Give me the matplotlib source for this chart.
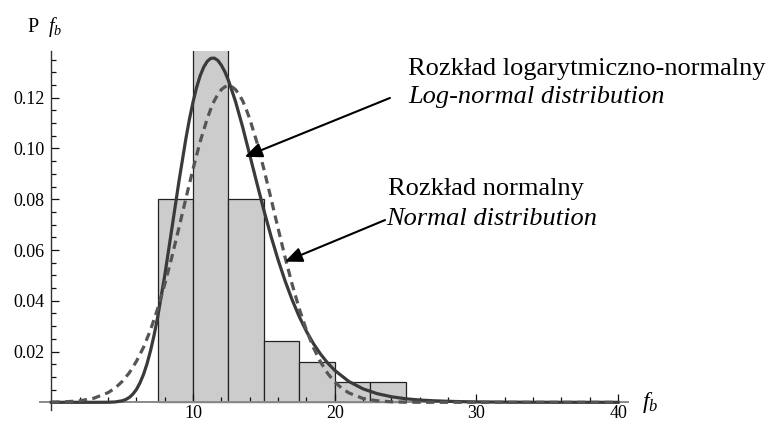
import matplotlib
matplotlib.use("Agg")
import matplotlib.pyplot as plt
from matplotlib.ticker import FixedLocator

plt.rcParams['font.family'] = ['Liberation Serif', 'DejaVu Serif']
plt.rcParams['mathtext.fontset'] = 'custom'
plt.rcParams['mathtext.rm'] = 'Liberation Serif'
plt.rcParams['mathtext.it'] = 'Liberation Serif:italic'

# histogram (bin edges, density heights)
bin_edges = [7.5, 10, 12.5, 15, 17.5, 20, 22.5, 25]
bin_heights = [0.08, 0.184, 0.08, 0.024, 0.016, 0.008, 0.008]

# log-normal fit
lognorm_x = [0, 1, 2, 3, 4, 4.5, 5, 5.25, 5.5, 5.75, 6, 6.25, 6.5, 6.75, 7, 7.25,
             7.5, 8, 8.5, 9, 9.5, 9.75, 10, 10.25, 10.5, 10.75, 11, 11.25, 11.5,
             11.75, 12, 12.25, 12.5, 12.75, 13, 13.5, 14, 14.5, 15, 15.5, 16, 16.5,
             17, 17.5, 18, 18.5, 19, 19.5, 20, 21, 22, 23, 24, 25, 26, 27, 28, 29,
             30, 32, 34, 36, 38, 40]
lognorm_y = [0, 0, 0, 0, 0.00002, 0.00014, 0.0006, 0.0011, 0.0019, 0.0032, 0.005,
             0.0076, 0.0109, 0.0151, 0.0203, 0.0264, 0.0334, 0.0498, 0.0682, 0.0868,
             0.1040, 0.1116, 0.1183, 0.1240, 0.1286, 0.1320, 0.1343, 0.1355, 0.1356,
             0.1347, 0.1328, 0.1302, 0.1268, 0.1227, 0.1185, 0.1085, 0.0975, 0.0865,
             0.0757, 0.0655, 0.0562, 0.0478, 0.0403, 0.0337, 0.0280, 0.0231, 0.0190,
             0.0155, 0.0126, 0.0082, 0.0053, 0.0034, 0.0022, 0.0014, 0.0009, 0.0006,
             0.0004, 0.00025, 0.00016, 0.00007, 0.00003, 0.00001, 0, 0]

# normal fit
normal_x = [0, 1, 2, 3, 4, 4.5, 5, 5.5, 6, 6.5, 7, 7.5, 8, 8.5, 9, 9.5, 10, 10.5,
            11, 11.25, 11.5, 11.75, 12, 12.25, 12.5, 12.75, 13, 13.25, 13.5, 13.75,
            14, 14.5, 15, 15.5, 16, 16.5, 17, 17.5, 18, 18.5, 19, 19.5, 20, 20.5,
            21, 22, 23, 24, 25, 26, 30, 35, 40]
normal_y = [0.00006, 0.0002, 0.0006, 0.0016, 0.0038, 0.0056, 0.0082, 0.0116, 0.0161,
            0.0216, 0.0285, 0.0368, 0.0464, 0.0571, 0.0686, 0.0804, 0.0919, 0.1026,
            0.1117, 0.1155, 0.1188, 0.1213, 0.1232, 0.1243, 0.1247, 0.1243, 0.1232,
            0.1213, 0.1188, 0.1155, 0.1117, 0.1026, 0.0919, 0.0804, 0.0686, 0.0571,
            0.0464, 0.0368, 0.0285, 0.0215, 0.0159, 0.0114, 0.0080, 0.0055, 0.0037,
            0.0015, 0.0006, 0.0002, 0.00006, 0.00001, 0, 0, 0]

# labels
label_lognorm_pl = "Rozkład logarytmiczno-normalny"
label_lognorm_en = "Log-normal distribution"
label_normal_pl = "Rozkład normalny"
label_normal_en = "Normal distribution"

fig = plt.figure(figsize=(7.68, 4.25), dpi=100)
ax = fig.add_axes([40/768, 15/425, 588/768, 359/425])

widths = [bin_edges[i+1] - bin_edges[i] for i in range(len(bin_heights))]
ax.bar(bin_edges[:-1], bin_heights, width=widths, align='edge',
       color='#cccccc', edgecolor='#222222', linewidth=0.9, zorder=1)

ax.plot(lognorm_x, lognorm_y, color='#3a3a3a', lw=2.3, zorder=3,
        solid_joinstyle='round')
ax.plot(normal_x, normal_y, color='#555555', lw=2.3, zorder=3,
        linestyle=(0, (2.6, 1.7)))

ax.set_xlim(-0.8, 40.7)
ax.set_ylim(-0.00303, 0.1384)

for s in ['top', 'right']:
    ax.spines[s].set_visible(False)
ax.spines['left'].set_position(('data', 0))
ax.spines['bottom'].set_position(('data', 0))
ax.spines['left'].set_color('#333333')
ax.spines['bottom'].set_color('#8a8a8a')
ax.spines['left'].set_linewidth(1.0)
ax.spines['bottom'].set_linewidth(1.4)
ax.spines['left'].set_zorder(2.5)
ax.spines['bottom'].set_zorder(2)

ax.xaxis.set_major_locator(FixedLocator([10, 20, 30, 40]))
ax.xaxis.set_minor_locator(FixedLocator([v for v in range(2, 40, 2) if v % 10 != 0]))
ax.yaxis.set_major_locator(FixedLocator([0.02, 0.04, 0.06, 0.08, 0.10, 0.12]))
ax.yaxis.set_minor_locator(FixedLocator([k * 0.005 for k in range(1, 28) if k % 4 != 0]))
ax.set_xticklabels(['10', '20', '30', '40'])
ax.set_yticklabels(['0.02', '0.04', '0.06', '0.08', '0.10', '0.12'])

ax.tick_params(which='both', direction='in', color='#111111', width=0.9)
ax.tick_params(which='major', length=6)
ax.tick_params(which='minor', length=3.5)
ax.tick_params(axis='both', labelsize=13, pad=5)
ax.tick_params(axis='x', pad=2)

# arrows
arrow_style = '-|>,head_length=1.05,head_width=0.45'
ax.annotate('', xy=(13.65, 0.0967), xytext=(23.9, 0.1199),
            arrowprops=dict(arrowstyle=arrow_style, color='black', lw=1.5,
                            shrinkA=0, shrinkB=0),
            zorder=4)
ax.annotate('', xy=(16.48, 0.0554), xytext=(23.55, 0.0718),
            arrowprops=dict(arrowstyle=arrow_style, color='black', lw=1.5,
                            shrinkA=0, shrinkB=0),
            zorder=4)

ax.text(25.16, 0.1290, label_lognorm_pl, fontsize=19, va='baseline', ha='left')
ax.text(25.16, 0.1180, label_lognorm_en, fontsize=19, va='baseline', ha='left',
        style='italic')
ax.text(23.75, 0.0817, label_normal_pl, fontsize=19, va='baseline', ha='left')
ax.text(23.66, 0.0699, label_normal_en, fontsize=19, va='baseline', ha='left',
        style='italic')

# axis labels
fig.text(27/768, 1 - 32/425, r'P  $f_b$', fontsize=14.5, va='baseline', ha='left')
fig.text(642/768, 1 - 408/425, r'$f_b$', fontsize=17, va='baseline', ha='left')

fig.savefig('out.png', dpi=100)
